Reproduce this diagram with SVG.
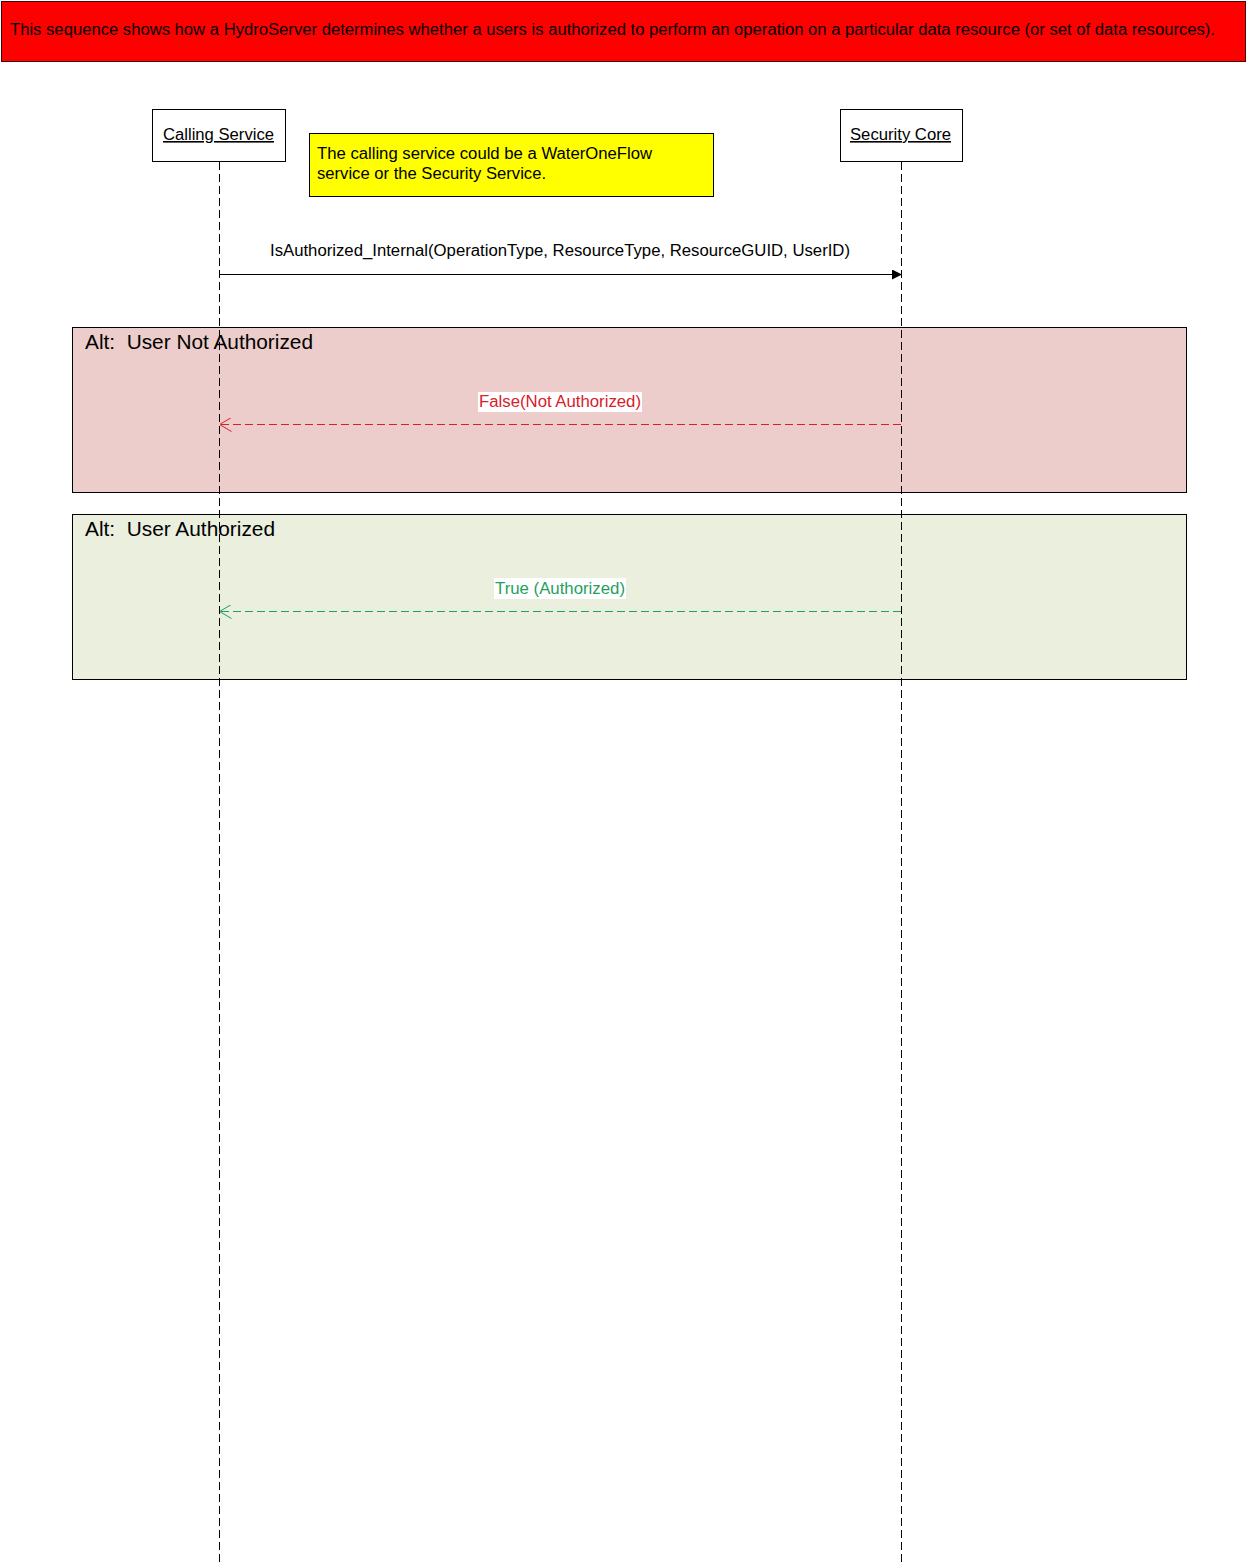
<svg xmlns="http://www.w3.org/2000/svg" width="1248" height="1562" viewBox="0 0 1248 1562">
<style>
text{font-family:"Liberation Sans",Arial,sans-serif;white-space:pre;}
.t16{font-size:16px;fill:#000;}
.alt{stroke:#000;stroke-width:1;}
.alttitle{font-size:20px;fill:#000;}
.life{stroke:#000;stroke-width:1;stroke-dasharray:8 4;fill:none;}
.actor{fill:#fff;stroke:#000;stroke-width:1;}
</style>
<defs>
<marker id="filled" viewBox="0 0 10 10" refX="10" refY="5" markerWidth="10" markerHeight="10" markerUnits="userSpaceOnUse" orient="auto">
<path d="M0,0 L10,5 L0,10 Z" fill="#000"/>
</marker>
<marker id="openRed" viewBox="0 0 12 14" refX="12" refY="7" markerWidth="12" markerHeight="14" markerUnits="userSpaceOnUse" orient="auto">
<path d="M0,0 L12,7 L0,14" fill="none" stroke="#D8202C" stroke-width="1"/>
</marker>
<marker id="openGreen" viewBox="0 0 12 14" refX="12" refY="7" markerWidth="12" markerHeight="14" markerUnits="userSpaceOnUse" orient="auto">
<path d="M0,0 L12,7 L0,14" fill="none" stroke="#1FA060" stroke-width="1"/>
</marker>
</defs>
<rect width="1248" height="1562" fill="#fff"/>
<g id="banner">
<rect x="1.5" y="1.5" width="1244" height="60" fill="#FF0000" stroke="#400000" stroke-width="1"/>
<text class="t16" x="10" y="35" fill="#1a0000" textLength="1205" lengthAdjust="spacingAndGlyphs">This sequence shows how a HydroServer determines whether a users is authorized to perform an operation on a particular data resource (or set of data resources).</text>
</g>
<g id="alt-not-authorized">
<rect class="alt" x="72.5" y="327.5" width="1114" height="165" fill="#ECCDCB"/>
<text class="alttitle" x="85" y="349" textLength="228" lengthAdjust="spacingAndGlyphs">Alt:  User Not Authorized</text>
</g>
<g id="alt-authorized">
<rect class="alt" x="72.5" y="514.5" width="1114" height="165" fill="#EAEFDE"/>
<text class="alttitle" x="85" y="536" textLength="190" lengthAdjust="spacingAndGlyphs">Alt:  User Authorized</text>
</g>
<g id="calling-service">
<rect class="actor" x="152.5" y="109.5" width="133" height="52"/>
<text class="t16" x="163" y="140" textLength="111" lengthAdjust="spacingAndGlyphs" text-decoration="underline">Calling Service</text>
<line class="life" x1="219.5" y1="162" x2="219.5" y2="1562"/>
</g>
<g id="security-core">
<rect class="actor" x="840.5" y="109.5" width="122" height="52"/>
<text class="t16" x="850" y="140" textLength="101" lengthAdjust="spacingAndGlyphs" text-decoration="underline">Security Core</text>
<line class="life" x1="901.5" y1="162" x2="901.5" y2="1562"/>
</g>
<g id="note">
<rect x="309.5" y="133.5" width="404" height="63" fill="#FFFF00" stroke="#000" stroke-width="1"/>
<text class="t16" x="317" y="159" textLength="335" lengthAdjust="spacingAndGlyphs">The calling service could be a WaterOneFlow</text>
<text class="t16" x="317" y="179" textLength="229" lengthAdjust="spacingAndGlyphs">service or the Security Service.</text>
</g>
<g id="connectors">
<line x1="219.5" y1="274.5" x2="902" y2="274.5" stroke="#000" stroke-width="1" marker-end="url(#filled)"/>
<text class="t16" x="270" y="256" textLength="580" lengthAdjust="spacingAndGlyphs">IsAuthorized_Internal(OperationType, ResourceType, ResourceGUID, UserID)</text>
<line x1="901" y1="424.5" x2="219.5" y2="424.5" stroke="#D8202C" stroke-width="1" stroke-dasharray="8 4" marker-end="url(#openRed)"/>
<rect x="478" y="392" width="164" height="20" fill="#fff"/>
<text x="479" y="407" font-size="16" fill="#D8202C" textLength="162" lengthAdjust="spacingAndGlyphs">False(Not Authorized)</text>
<line x1="901" y1="611.5" x2="219.5" y2="611.5" stroke="#1FA060" stroke-width="1" stroke-dasharray="8 4" marker-end="url(#openGreen)"/>
<rect x="494" y="578" width="132" height="21" fill="#fff"/>
<text x="495" y="594" font-size="16" fill="#1FA060" textLength="130" lengthAdjust="spacingAndGlyphs">True (Authorized)</text>
</g>
</svg>
